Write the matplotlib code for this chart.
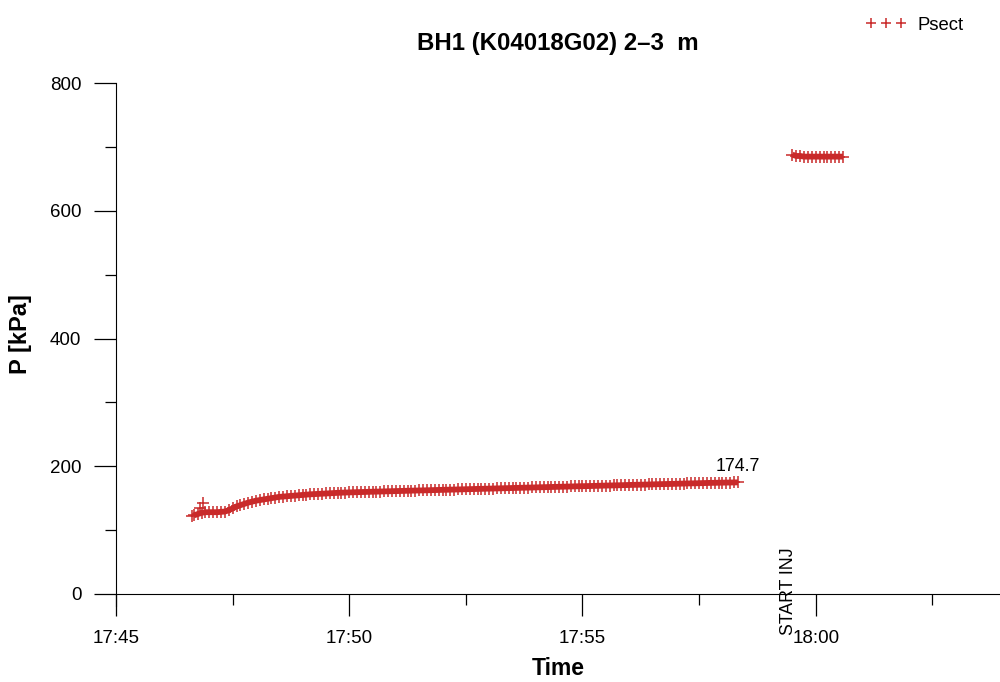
#!/usr/bin/env python3
"""Section pressure vs time, BH1 2-3 m."""
from datetime import datetime, timedelta

import numpy as np
import matplotlib
matplotlib.use("Agg")
import matplotlib.pyplot as plt
import matplotlib.dates as mdates
from matplotlib.ticker import AutoMinorLocator

plt.rcParams["font.family"] = ["Liberation Sans", "DejaVu Sans"]

# time axis origin and limits (seconds after 17:45:00)
t_origin = datetime(2004, 1, 1, 17, 45, 0)
t_xmax = 1137

# first test period: one reading every 5 s from t=100 s to t=800 s
low_t0 = 100
low_step = 5
low_values = [
    123, 125, 127, 128, 128, 128, 128, 128.5, 129, 131,
    134, 137, 139, 141, 143, 144.5, 146, 147, 148, 149,
    150, 151, 152, 152.5, 153, 153.5, 154, 154.5, 155, 155.5,
    156, 156.3, 156.7, 157, 157.3, 157.6, 158, 158.3, 158.6, 158.8,
    159,
    159.2, 159.4, 159.5, 159.7, 159.9, 160.0, 160.2, 160.4, 160.5, 160.7,
    160.9, 161.0, 161.2, 161.4, 161.5, 161.7, 161.9, 162.0, 162.2, 162.3,
    162.5, 162.7, 162.8, 163.0, 163.1, 163.3, 163.5, 163.6, 163.8, 163.9,
    164.1, 164.3, 164.4, 164.6, 164.7, 164.9, 165.1, 165.2, 165.4, 165.5,
    165.7, 165.9, 166.0, 166.2, 166.3, 166.5, 166.7, 166.8, 167.0, 167.1,
    167.3, 167.5, 167.6, 167.8, 167.9, 168.1, 168.3, 168.4, 168.6, 168.7,
    168.9, 169.0, 169.2, 169.4, 169.5, 169.7, 169.8, 170.0, 170.1, 170.3,
    170.5, 170.6, 170.8, 170.9, 171.1, 171.2, 171.4, 171.6, 171.7, 171.9,
    172.0, 172.2, 172.3, 172.5, 172.7, 172.8, 173.0, 173.1, 173.3, 173.4,
    173.6, 173.8, 173.9, 174.0, 174.1, 174.2, 174.3, 174.5, 174.6, 174.7,
]
# scattered early readings (packer inflation)
early_t = [98, 108, 112]
early_values = [122, 134, 143]

# injection period readings
inj_t0 = 870
inj_step = 5
inj_values = [688, 686, 686, 685, 685, 685, 685, 685, 685, 685, 685, 685, 685, 685]

event_t = 865
event_label = "START INJ"

title = "BH1 (K04018G02) 2\u20133  m"
red = "#c92a2a"


def to_time(secs):
    return [t_origin + timedelta(seconds=float(s)) for s in secs]


low_secs = low_t0 + low_step * np.arange(len(low_values))
inj_secs = inj_t0 + inj_step * np.arange(len(inj_values))

fig = plt.figure(figsize=(10, 6.82), dpi=100)
ax = fig.add_axes([0.116, 0.129 - 0.0176, 0.884, 0.749 + 0.0176])

mk = dict(linestyle="none", marker="+", markersize=9, markeredgewidth=1.1,
          color=red, clip_on=False)
# dense readings merge into a solid band
for secs, vals in [(low_secs, low_values), (inj_secs, inj_values)]:
    ax.plot(to_time(secs), vals, color=red, lw=4.2, solid_capstyle="butt")
    ax.plot(to_time(secs), vals, **mk)
ax.plot(to_time(early_t), early_values, label="Psect", **mk)

ax.set_xlim(t_origin, t_origin + timedelta(seconds=t_xmax))
ax.set_ylim(-19, 800)

ax.spines["top"].set_visible(False)
ax.spines["right"].set_visible(False)
ax.spines["bottom"].set_position(("data", 0))
ax.spines["left"].set_bounds(-19, 800)

ax.xaxis.set_major_locator(mdates.MinuteLocator(byminute=range(0, 60, 5)))
ax.xaxis.set_major_formatter(mdates.DateFormatter("%H:%M"))
ax.xaxis.set_minor_locator(AutoMinorLocator(2))
ax.set_yticks([0, 200, 400, 600, 800])
ax.yaxis.set_minor_locator(AutoMinorLocator(2))

ax.tick_params(which="major", direction="out", length=16, width=0.9,
               labelsize=13.5, pad=9)
ax.tick_params(which="minor", direction="out", length=8, width=0.9)
ax.tick_params(axis="x", which="major", pad=10)

ax.set_xlabel("Time", fontsize=16.5, fontweight="bold", labelpad=7)
ax.set_ylabel("P [kPa]", fontsize=17, fontweight="bold")
ax.yaxis.set_label_coords(-0.095, 0.52)
ax.set_title(title, fontsize=17.3, fontweight="bold", pad=24)

# value of the last reading in the first period
last_t = to_time([low_secs[-1]])[0]
ax.annotate(f"{low_values[-1]:.1f}", xy=(last_t, low_values[-1]),
            xytext=(0, 5), textcoords="offset points",
            ha="center", va="bottom", fontsize=12.8)

ax.text(to_time([event_t])[0], -64, event_label, rotation=90,
        ha="center", va="bottom", fontsize=12.8, clip_on=False)

fig.legend(loc="upper right", bbox_to_anchor=(0.98, 1.0), frameon=False,
           numpoints=3, fontsize=13.3, handlelength=2.2, handletextpad=0.6,
           markerscale=0.85)

fig.savefig("out.png", dpi=100)
